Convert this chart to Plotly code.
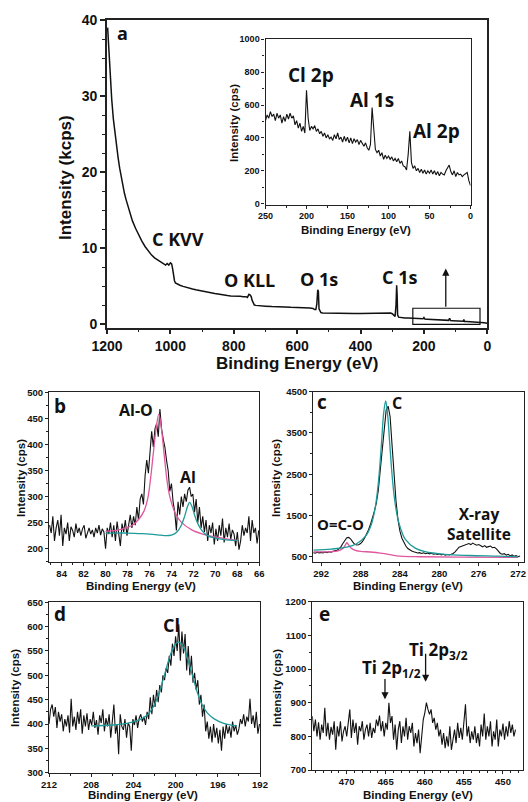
import plotly.graph_objects as go

W, H = 528, 802

# ---------------- (a) survey spectrum, kcps ----------------
survey_be = [
    1198, 1195, 1192, 1189, 1185, 1180, 1175, 1170, 1165, 1160,
    1155, 1150, 1145, 1140, 1135, 1130, 1120, 1110, 1100, 1090,
    1080, 1070, 1060, 1050, 1040, 1030, 1020, 1015, 1010, 1005,
    1000, 996, 993, 990, 987, 984, 980, 970, 960, 950,
    940, 930, 920, 910, 900, 890, 880, 870, 860, 850,
    840, 830, 820, 810, 800, 790, 780, 770, 762, 757,
    752, 748, 745, 742, 738, 735, 730, 720, 700, 680,
    660, 640, 620, 600, 580, 560, 550, 545, 541, 538,
    535, 533, 531, 528, 525, 520, 500, 480, 460, 440,
    420, 400, 380, 360, 340, 320, 305, 300, 295, 291,
    288, 286, 284.5, 283, 280, 275, 270, 260, 250, 240,
    230, 220, 210, 203, 200, 197, 190, 180, 170, 160,
    150, 140, 130, 122, 119, 116, 110, 100, 90, 80,
    76, 74, 72, 65, 50, 40, 30, 20, 10, 5, 0,
]
survey_kcps = [
    39.0, 36.5, 34.0, 31.8, 29.5, 27.0, 25.0, 23.3, 21.9, 20.5,
    19.3, 18.2, 17.2, 16.4, 15.6, 14.9, 13.6, 12.6, 11.7, 10.9,
    10.2, 9.6, 9.1, 8.7, 8.4, 8.1, 7.9, 7.75, 7.95, 7.75,
    8.05, 7.9, 7.3, 6.3, 5.7, 5.4, 5.3, 5.1, 4.95, 4.8,
    4.7, 4.6, 4.5, 4.4, 4.3, 4.25, 4.15, 4.1, 4.0, 3.95,
    3.85, 3.8, 3.75, 3.7, 3.7, 3.68, 3.65, 3.6, 3.6, 3.5,
    3.9, 3.8, 3.6, 3.1, 2.7, 2.5, 2.45, 2.4, 2.35, 2.3,
    2.3, 2.25, 2.2, 2.2, 2.15, 2.1, 2.05, 1.9, 1.9, 2.6,
    4.5, 4.3, 2.0, 1.6, 1.5, 1.45, 1.42, 1.4, 1.4, 1.38,
    1.38, 1.37, 1.37, 1.36, 1.38, 1.4, 1.45, 1.35, 1.1, 1.0,
    2.5, 5.1, 3.8, 1.2, 0.9, 0.86, 0.84, 0.8, 0.78, 0.75,
    0.73, 0.71, 0.69, 0.68, 0.85, 0.66, 0.64, 0.61, 0.59, 0.57,
    0.55, 0.52, 0.5, 0.48, 0.75, 0.46, 0.44, 0.42, 0.39, 0.36,
    0.35, 0.6, 0.34, 0.32, 0.3, 0.27, 0.24, 0.2, 0.16, 0.13, 0.1,
]

# ---------------- inset: 250-0 eV, cps (2 eV steps) ----------------
inset_be = list(range(250, -1, -2))
inset_cps = [
    505, 540, 520, 560, 530, 545, 505, 550, 520, 540,
    490, 530, 500, 545, 515, 550, 520, 535, 480, 505,
    460, 490, 440, 470, 430, 690, 520, 445, 470, 455,
    475, 440, 455, 425, 440, 410, 430, 400, 420, 395,
    405, 385, 420, 395, 430, 390, 405, 375, 410, 380,
    405, 370, 400, 365, 395, 375, 390, 360, 385, 365,
    350, 370, 340, 325, 360, 585, 420, 330, 310, 325,
    290, 310, 270, 295, 275, 290, 270, 285, 260, 275,
    255, 275, 245, 260, 230, 225, 205, 300, 440, 250,
    215, 230, 200, 215, 190, 210, 185, 205, 180, 200,
    185, 205, 180, 200, 175, 195, 170, 190, 180, 175,
    200, 215, 235, 195, 175, 200, 165, 190, 175, 180,
    165, 175, 185, 190, 140, 110,
]

# ---------------- (b) Al 2p, 0.15 eV steps from 85.1 eV ----------------
al_cps = [
    245, 230, 262, 215, 240, 255, 225, 265, 205, 240,
    228, 250, 215, 242, 235, 222, 248, 230, 240, 225,
    238, 245, 220, 232, 240, 228, 236, 222, 240, 230,
    245, 226, 238, 232, 200, 240, 228, 250, 222, 245,
    215, 252, 230, 205, 248, 232, 255, 225, 245, 265,
    240, 262, 245, 280, 255, 295, 305, 285, 340, 370,
    345, 385, 425, 395, 430, 440, 415, 468, 430, 410,
    395, 370, 350, 310, 325, 290, 270, 235, 290, 265,
    300, 280, 305, 290, 312, 318, 300, 305, 270, 295,
    250, 280, 240, 262, 232, 255, 215, 245, 230, 250,
    208, 238, 215, 245, 225, 258, 212, 240, 222, 248,
    218, 236, 228, 205, 232, 198, 215, 245, 225, 240,
    230, 262, 215, 255, 230, 240, 210, 235,
]
al_be = [round(85.1 - 0.15 * i, 2) for i in range(len(al_cps))]

alo_fit_be = [80.0, 79.0, 78.0, 77.5, 77.0, 76.5, 76.15, 75.9, 75.65, 75.4, 75.15,
              74.9, 74.65, 74.4, 74.15, 73.65, 73.15, 72.15, 71.15, 70.15, 69.0, 68.0]
alo_fit_cps = [233, 235, 241, 246, 256, 272, 297, 335, 383, 430, 458,
               428, 378, 330, 300, 268, 252, 236, 228, 223, 219, 216]

almet_fit_be = [80.0, 79.0, 78.0, 77.0, 76.0, 75.0, 74.5, 74.0, 73.5, 73.1, 72.8,
                72.55, 72.35, 72.15, 71.9, 71.6, 71.2, 70.8, 70.0, 69.0, 68.0]
almet_fit_cps = [230, 230, 230, 229, 228, 226, 225, 226, 232, 245, 262,
                 280, 289, 282, 265, 248, 234, 226, 220, 217, 216]

# ---------------- (c) C 1s, 0.2 eV steps from 292.8 eV ----------------
c_cps = [
    600, 585, 610, 595, 605, 590, 615, 600, 620, 610,
    630, 640, 660, 690, 740, 820, 900, 960, 970, 930,
    860, 800, 785, 790, 820, 870, 950, 1040, 1150, 1280,
    1430, 1600, 1800, 2100, 2600, 3100, 3650, 4050, 4150, 3900,
    3200, 2500, 1850, 1400, 1120, 950, 840, 760, 700, 660,
    640, 620, 605, 590, 600, 580, 595, 575, 590, 570,
    585, 560, 575, 555, 570, 545, 560, 540, 555, 545,
    560, 580, 620, 680, 730, 750, 770, 790, 800, 820,
    795, 830, 800, 780, 795, 760, 740, 770, 730, 745,
    760, 720, 730, 690, 640, 580, 560, 575, 540, 560,
    520, 545, 510, 530, 500, 520,
]
c_be = [round(292.8 - 0.2 * i, 2) for i in range(len(c_cps))]

cc_fit_be = [292.8, 291.0, 289.45, 288.45, 287.45, 286.95, 286.65, 286.45, 286.25, 286.05,
             285.85, 285.65, 285.45, 285.25, 285.05, 284.85, 284.65, 284.45, 284.25, 283.95,
             283.45, 282.45, 281.45, 279.45, 277.0, 274.0, 272.0]
cc_fit_cps = [660, 685, 732, 809, 1010, 1250, 1517, 1783, 2163, 2681,
              3342, 3988, 4280, 3938, 3292, 2630, 2110, 1730, 1460, 1200,
              920, 709, 622, 557, 530, 513, 500]

oco_fit_be = [292.8, 291.0, 290.2, 289.8, 289.55, 289.4, 289.25, 289.0, 288.6, 288.0,
              287.0, 286.0, 285.0, 284.0, 282.0, 278.0, 272.0]
oco_fit_cps = [620, 622, 650, 700, 780, 840, 800, 720, 660, 630,
               615, 590, 550, 515, 500, 490, 485]

# ---------------- (d) Cl 2p, 0.15 eV steps from 212 eV ----------------
cl_cps = [
    400, 430, 440, 415, 435, 392, 425, 405, 420, 385,
    410, 395, 418, 382, 452, 395, 415, 388, 425, 400,
    430, 380, 418, 395, 422, 388, 410, 398, 425, 392,
    408, 378, 418, 402, 430, 385, 412, 395, 420, 372,
    405, 440, 380, 400, 338, 420, 395, 388, 410, 372,
    402, 395, 345, 410, 398, 418, 392, 412, 420, 405,
    415, 398, 425, 410, 455, 420, 460, 435, 470, 445,
    480, 465, 500, 490, 515, 505, 540, 520, 565, 540,
    580, 550, 605, 530, 590, 545, 585, 510, 560, 500,
    540, 485, 505, 470, 490, 440, 460, 415, 440, 385,
    405, 370, 395, 362, 400, 372, 392, 360, 388, 345,
    395, 370, 400, 380, 395, 372, 405, 385, 398, 378,
    390, 410, 400, 420, 395, 415, 405, 452, 400, 418,
    392, 425, 380, 400,
]
cl_be = [round(212.0 - 0.15 * i, 2) for i in range(len(cl_cps))]

cl_fit_be = [208.0, 206.0, 204.5, 203.5, 202.7, 202.2, 201.8, 201.4, 201.0, 200.6, 200.2,
             199.8, 199.5, 199.1, 198.7, 198.3, 197.9, 197.5, 197.0, 196.3, 195.5, 194.6, 194.2]
cl_fit_cps = [396, 398, 402, 408, 418, 432, 450, 475, 505, 535, 558,
              568, 566, 550, 522, 492, 462, 440, 423, 410, 402, 397, 396]

# ---------------- (e) Ti 2p, 0.2 eV steps from 474.4 eV ----------------
ti_cps = [
    860, 815, 850, 800, 842, 790, 835, 810, 885, 800,
    840, 790, 828, 805, 845, 760, 830, 800, 845, 785,
    815, 830, 800, 835, 880, 795, 850, 810, 840, 775,
    830, 815, 845, 790, 820, 835, 800, 840, 795, 825,
    810, 850, 830, 862, 815, 845, 800, 840, 820, 900,
    840, 860, 790, 835, 760, 820, 845, 780, 830, 800,
    855, 790, 830, 810, 840, 770, 810, 780, 820, 750,
    810, 850, 870, 900, 880, 865, 880, 840, 855, 820,
    840, 800, 820, 775, 810, 765, 800, 770, 830, 760,
    790, 820, 780, 840, 795, 825, 790, 855, 895, 800,
    830, 780, 815, 790, 830, 780, 810, 770, 835, 800,
    868, 790, 830, 800, 845, 770, 815, 790, 850, 770,
    820, 800, 838, 790, 830, 800, 845, 810, 835, 800,
    820,
]
ti_be = [round(474.4 - 0.2 * i, 2) for i in range(len(ti_cps))]

# ---------------- styling ----------------
BLACK = "#111111"
AXC = "#222222"
PINK = "#e0569f"
TEAL = "#1f9a99"
TICKFONT = "Liberation Sans, Arial, sans-serif"
LABELFONT = "Open Sans, Liberation Sans, sans-serif"


def xdom(left, right):
    return [left / W, right / W]


def ydom(top, bottom):
    return [1 - bottom / H, 1 - top / H]


def axis(domain, rng, anchor, dtick, minor_dtick, fsize, lw, tlen, mlen, tickvals=None):
    d = dict(
        domain=domain, range=rng, anchor=anchor, autorange=False,
        showline=True, mirror=True, linecolor=AXC, linewidth=lw,
        ticks="outside", ticklen=tlen, tickwidth=lw, tickcolor=AXC,
        showgrid=False, zeroline=False, automargin=False, fixedrange=True,
        tickfont=dict(family=TICKFONT, size=fsize, color=BLACK, weight="bold"),
        minor=dict(ticks="outside", ticklen=mlen, tickwidth=max(lw * 0.8, 0.8),
                   tickcolor=AXC, tickmode="linear", tick0=0, dtick=minor_dtick),
    )
    if tickvals is not None:
        d.update(tickmode="array", tickvals=tickvals)
    else:
        d.update(tickmode="linear", tick0=0, dtick=dtick)
    return d


fig = go.Figure()


def line(x, y, xa, ya, color=BLACK, width=1.1, shape="linear"):
    fig.add_trace(go.Scatter(x=x, y=y, mode="lines", xaxis=xa, yaxis=ya,
                             line=dict(color=color, width=width, shape=shape),
                             hoverinfo="skip", showlegend=False))


line(survey_be, survey_kcps, "x", "y", width=1.5)
line(inset_be, inset_cps, "x2", "y2", width=1.1)
line(al_be, al_cps, "x3", "y3", width=1.1)
line(alo_fit_be, alo_fit_cps, "x3", "y3", color=PINK, width=1.3, shape="spline")
line(almet_fit_be, almet_fit_cps, "x3", "y3", color=TEAL, width=1.3, shape="spline")
line(c_be, c_cps, "x4", "y4", width=1.1)
line(oco_fit_be, oco_fit_cps, "x4", "y4", color=PINK, width=1.3, shape="spline")
line(cc_fit_be, cc_fit_cps, "x4", "y4", color=TEAL, width=1.3, shape="spline")
line(cl_be, cl_cps, "x5", "y5", width=1.1)
line(cl_fit_be, cl_fit_cps, "x5", "y5", color=TEAL, width=1.3, shape="spline")
line(ti_be, ti_cps, "x6", "y6", width=1.1)

layout = dict(
    width=W, height=H, margin=dict(l=0, r=0, t=0, b=0),
    paper_bgcolor="white", plot_bgcolor="rgba(0,0,0,0)", showlegend=False,
    xaxis=axis(xdom(107, 487.3), [1200, 0], "y", 200, 100, 14, 1.7, 5, 3),
    yaxis=axis(ydom(20, 327.5), [-0.46, 40], "x", 10, 2.5, 14, 1.7, 5, 3),
    xaxis2=axis(xdom(265.5, 470.5), [250, 0], "y2", 50, 25, 9, 1.1, 3, 2),
    yaxis2=axis(ydom(39.3, 204.5), [-5, 1000], "x2", 200, 100, 9, 1.1, 3, 2),
    xaxis3=axis(xdom(49, 259.3), [85.15, 66], "y3", 2, 1, 9.5, 1.1, 3, 2),
    yaxis3=axis(ydom(392.3, 561.7), [175, 500], "x3", 50, 25, 9.5, 1.1, 3, 2),
    xaxis4=axis(xdom(313.3, 524), [292.8, 271.4], "y4", 4, 2, 9.5, 1.1, 3, 2),
    yaxis4=axis(ydom(391.7, 561.7), [380, 4500], "x4", None, 500, 9.5, 1.1, 3, 2,
                tickvals=[500, 1500, 2500, 3500, 4500]),
    xaxis5=axis(xdom(49, 260), [212, 192], "y5", 4, 2, 9.5, 1.1, 3, 2),
    yaxis5=axis(ydom(602.3, 772.7), [300, 650], "x5", 50, 25, 9.5, 1.1, 3, 2),
    xaxis6=axis(xdom(312.3, 523.3), [474.4, 447.4], "y6", 5, 1, 9.5, 1.1, 3, 2),
    yaxis6=axis(ydom(601.7, 770), [700, 1200], "x6", 100, 50, 9.5, 1.1, 3, 2),
)
fig.update_layout(**layout)

annotations = []


def paper_text(text, px, py, size, family=TICKFONT, angle=0):
    annotations.append(dict(
        text=text, x=px / W, y=1 - py / H, xref="paper", yref="paper",
        xanchor="center", yanchor="middle", showarrow=False, textangle=angle,
        font=dict(family=family, size=size, color=BLACK)))


def data_text(text, x, y, xa, ya, size):
    annotations.append(dict(
        text=text, x=x, y=y, xref=xa, yref=ya, xanchor="center", yanchor="middle",
        showarrow=False, font=dict(family=LABELFONT, size=size, color=BLACK)))


# axis titles
paper_text("<b>Binding Energy (eV)</b>", 297, 364, 17)
paper_text("<b>Intensity (kcps)</b>", 65, 178, 17, angle=-90)
paper_text("<b>Binding Energy (eV)</b>", 356, 230, 11.5)
paper_text("<b>Intensity (cps)</b>", 234, 123, 11.5, angle=-90)
paper_text("<b>Binding Energy (eV)</b>", 141, 586, 11.5)
paper_text("<b>Intensity (cps)</b>", 21, 478, 11.5, angle=-90)
paper_text("<b>Binding Energy (eV)</b>", 408, 586, 11.5)
paper_text("<b>Intensity (cps)</b>", 276, 478, 11.5, angle=-90)
paper_text("<b>Binding Energy (eV)</b>", 143, 795, 11.5)
paper_text("<b>Intensity (cps)</b>", 15, 688, 11.5, angle=-90)
paper_text("<b>Binding Energy (eV)</b>", 418, 795, 11.5)
paper_text("<b>Intensity (cps)</b>", 277, 688, 11.5, angle=-90)

# panel letters
paper_text("<b>a</b>", 122, 33, 18, family=LABELFONT)
paper_text("<b>b</b>", 60, 406, 19, family=LABELFONT)
paper_text("<b>c</b>", 322, 402, 19, family=LABELFONT)
paper_text("<b>d</b>", 60, 614, 19, family=LABELFONT)
paper_text("<b>e</b>", 324, 614, 19, family=LABELFONT)

# peak labels
data_text("<b>C KVV</b>", 976, 11.2, "x", "y", 18)
data_text("<b>O KLL</b>", 750, 5.8, "x", "y", 18)
data_text("<b>O 1s</b>", 531, 5.9, "x", "y", 18)
data_text("<b>C 1s</b>", 276, 6.15, "x", "y", 18)
data_text("<b>Cl 2p</b>", 195, 782, "x2", "y2", 19)
data_text("<b>Al 1s</b>", 120.7, 631, "x2", "y2", 19)
data_text("<b>Al 2p</b>", 41.5, 440, "x2", "y2", 19)
data_text("<b>Al-O</b>", 77.26, 466, "x3", "y3", 16)
data_text("<b>Al</b>", 72.46, 338, "x3", "y3", 16)
data_text("<b>C</b>", 284.27, 4217, "x4", "y4", 16)
data_text("<b>O=C-O</b>", 290.03, 1292, "x4", "y4", 15)
data_text("<b>X-ray<br>Satellite</b>", 275.97, 1290, "x4", "y4", 15.5)
data_text("<b>Cl</b>", 200.37, 603, "x5", "y5", 18)
data_text("<b>Ti 2p<sub>1/2</sub></b>", 464.3, 1002, "x6", "y6", 17)
data_text("<b>Ti 2p<sub>3/2</sub></b>", 458.2, 1056, "x6", "y6", 17)


# arrows
def arrow(x, y_head, y_tail, xa, ya):
    annotations.append(dict(
        x=x, y=y_head, ax=x, ay=y_tail, xref=xa, yref=ya, axref=xa, ayref=ya,
        text="", showarrow=True, arrowhead=2, arrowsize=1.1, arrowwidth=1.3,
        arrowcolor=BLACK))


arrow(131, 7.3, 2.07, "x", "y")
arrow(465.1, 910, 975, "x6", "y6")
arrow(459.9, 962, 1050, "x6", "y6")

fig.update_layout(annotations=annotations)

# zoom-region box on the survey
fig.add_shape(type="rect", xref="x", yref="y", x0=235, x1=23, y0=-0.04, y1=2.07,
              line=dict(color=BLACK, width=1.2))

fig.write_html("out.html")
